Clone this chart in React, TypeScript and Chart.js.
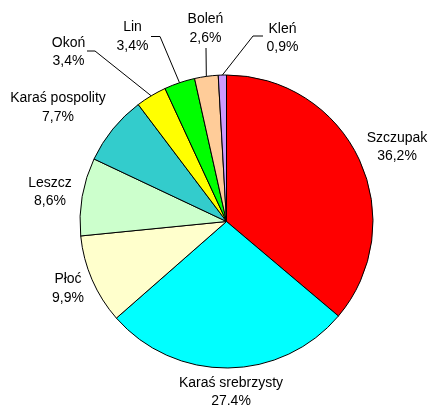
import React, { useEffect, useRef } from "react";
import { Chart, registerables } from "chart.js";

Chart.register(...registerables);

const categories = [
  "Szczupak",
  "Karaś srebrzysty",
  "Płoć",
  "Leszcz",
  "Karaś pospolity",
  "Okoń",
  "Lin",
  "Boleń",
  "Kleń",
];
const shares = [36.2, 27.4, 9.9, 8.6, 7.7, 3.4, 3.4, 2.6, 0.9];
const colors = [
  "#FF0000",
  "#00FFFF",
  "#FFFFCC",
  "#CCFFCC",
  "#33CCCC",
  "#FFFF00",
  "#00FF00",
  "#FFCC99",
  "#CC99FF",
];

// label layout: center of two-line label block relative to pie center,
// optional leader line points relative to label center (elbow then end near text)
const labelLayout: { dx: number; dy: number; leader?: number[][] }[] = [
  { dx: 170.5, dy: -75.5 },
  { dx: 4.5, dy: 169.5 },
  { dx: -158.5, dy: 66 },
  { dx: -176.5, dy: -30.5 },
  { dx: -168.5, dy: -115 },
  { dx: -158, dy: -170.5, leader: [[26.5, 0], [18.5, 0]] },
  { dx: -94, dy: -186, leader: [[27.5, 1], [18.5, 1]] },
  { dx: -21, dy: -194, leader: [[0.5, 20.5]] },
  { dx: 56, dy: -184.5, leader: [[-29.5, -1], [-19.5, -1]] },
];

const fmt = (v: number) => v.toFixed(1).replace(".", ",") + "%";

const labelPlugin = {
  id: "pieLabels",
  afterDatasetsDraw(chart: any) {
    const ctx = chart.ctx;
    const meta = chart.getDatasetMeta(0);
    ctx.save();
    meta.data.forEach((arc: any, i: number) => {
      const lay = labelLayout[i];
      const cx = arc.x;
      const cy = arc.y;
      const lx = cx + lay.dx;
      const ly = cy + lay.dy;
      if (lay.leader) {
        const mid = (arc.startAngle + arc.endAngle) / 2;
        const px = cx + Math.cos(mid) * arc.outerRadius;
        const py = cy + Math.sin(mid) * arc.outerRadius;
        ctx.beginPath();
        ctx.strokeStyle = "#000";
        ctx.lineWidth = 1;
        ctx.moveTo(px, py);
        lay.leader.forEach((p) => ctx.lineTo(lx + p[0], ly + p[1]));
        ctx.stroke();
      }
      ctx.fillStyle = "#000";
      ctx.font = '14px "Liberation Sans", Arial, sans-serif';
      ctx.textAlign = "center";
      ctx.textBaseline = "alphabetic";
      ctx.fillText(categories[i], lx, ly - 9.25 + 5);
      ctx.fillText(fmt(shares[i]), lx, ly + 9.25 + 5);
    });
    ctx.restore();
  },
};

export default function App() {
  const ref = useRef<HTMLCanvasElement | null>(null);
  useEffect(() => {
    if (!ref.current) return;
    const chart = new Chart(ref.current, {
      type: "pie",
      data: {
        labels: categories,
        datasets: [
          {
            data: shares,
            backgroundColor: colors,
            borderColor: "#000",
            borderWidth: 1,
            radius: 146.5,
          } as any,
        ],
      },
      options: {
        responsive: false,
        animation: false,
        layout: { padding: { left: 23, right: 0, top: 38, bottom: 0 } },
        plugins: {
          legend: { display: false },
          tooltip: { enabled: false },
        },
      },
      plugins: [labelPlugin],
    });
    return () => chart.destroy();
  }, []);
  return (
    <div style={{ position: "absolute", left: 0, top: 0, width: 430, height: 405, background: "#fff" }}>
      <canvas ref={ref} width={430} height={405} style={{ display: "block" }} />
    </div>
  );
}
